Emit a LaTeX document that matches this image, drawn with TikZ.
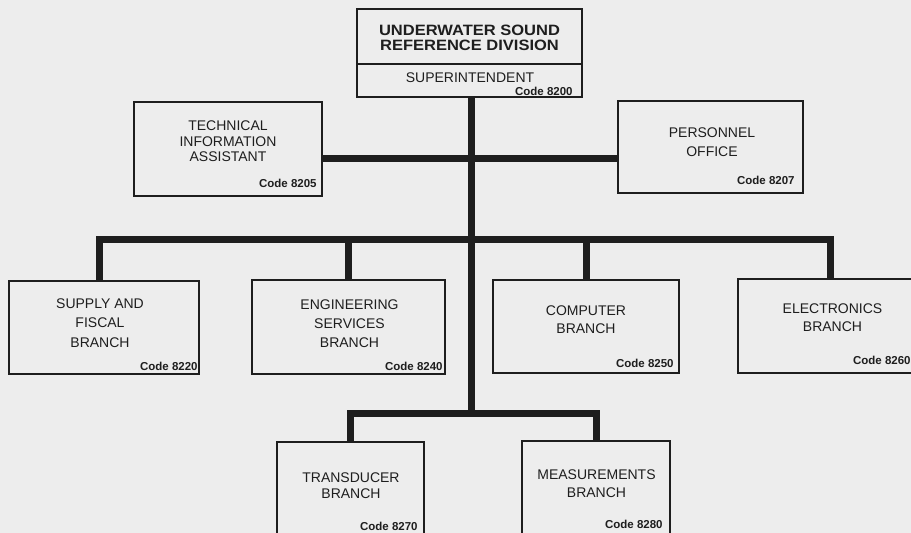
\documentclass[tikz,border=0pt]{standalone}
\usepackage{fontspec}
\setmainfont{Liberation Sans}
\newfontfamily\headfont[FakeStretch=1.1]{Liberation Sans}
\definecolor{ink}{HTML}{1E1E1E}
\definecolor{paper}{HTML}{EDEDED}

\begin{document}
\begin{tikzpicture}[x=1pt,y=-1pt,
  unit/.style={draw=ink,line width=1.6pt,inner sep=0pt},
  boxtext/.style={font=\fontsize{14}{#1}\selectfont,align=center,
    text=ink,inner sep=0pt},
  codetext/.style={font=\fontsize{11.5}{13}\selectfont\bfseries,
    text=ink,anchor=base east,inner sep=0pt},
  link/.style={draw=ink,line width=7pt}]
  \useasboundingbox (0,0) rectangle (911,533);
  \clip (0,0) rectangle (911,533);
  \fill[paper] (0,0) rectangle (911,533);

  \node[unit,minimum width=225pt,minimum height=55pt] (div) at (469.5,36.5) {};
  \node[unit,minimum width=225pt,minimum height=33pt] (sup) at (469.5,80.5) {};
  \node[font=\headfont\fontsize{15}{15.5}\selectfont\bfseries,align=center,
    text=ink,inner sep=0pt] (divname) at (469.5,37.8)
    {UNDERWATER SOUND\\REFERENCE DIVISION};
  \node[boxtext=16] (supname) at (470,78) {SUPERINTENDENT};
  \node[codetext] at ([xshift=-10pt,yshift=2.5pt]sup.south east) {Code 8200};

  \node[unit,minimum width=188pt,minimum height=94pt] (tech) at (228,149) {};
  \node[boxtext=15.5] at (228,141.2) {TECHNICAL\\INFORMATION\\ASSISTANT};
  \node[codetext] at ([xshift=-6pt,yshift=9pt]tech.south east) {Code 8205};

  \node[unit,minimum width=185pt,minimum height=92pt] (pers) at (710.5,147) {};
  \node[boxtext=19] at (712,142.5) {PERSONNEL\\OFFICE};
  \node[codetext] at ([xshift=-9pt,yshift=9pt]pers.south east) {Code 8207};

  \node[unit,minimum width=190pt,minimum height=93pt] (supply) at (104,327.5) {};
  \node[boxtext=19.5] at (100,323) {SUPPLY AND\\FISCAL\\BRANCH};
  \node[codetext] at ([xshift=-2pt,yshift=4pt]supply.south east) {Code 8220};

  \node[unit,minimum width=193pt,minimum height=94pt] (eng) at (348.5,327) {};
  \node[boxtext=19] at (349.5,324) {ENGINEERING\\SERVICES\\BRANCH};
  \node[codetext] at ([xshift=-3pt,yshift=4pt]eng.south east) {Code 8240};

  \node[unit,minimum width=186pt,minimum height=93pt] (comp) at (586,326.5) {};
  \node[boxtext=18] at (586,320) {COMPUTER\\BRANCH};
  \node[codetext] at ([xshift=-6pt,yshift=6pt]comp.south east) {Code 8250};

  \node[unit,minimum width=189pt,minimum height=94pt] (elec) at (832.5,326) {};
  \node[boxtext=18] at (832.5,318) {ELECTRONICS\\BRANCH};
  \node[codetext] at ([xshift=-17pt,yshift=9pt]elec.south east) {Code 8260};

  \node[unit,minimum width=147pt,minimum height=95pt] (trans) at (350.5,489.5) {};
  \node[boxtext=16] at (351,486) {TRANSDUCER\\BRANCH};
  \node[codetext] at ([xshift=-7pt,yshift=7pt]trans.south east) {Code 8270};

  \node[unit,minimum width=148pt,minimum height=96pt] (meas) at (596,489) {};
  \node[boxtext=18] at (596.5,484) {MEASUREMENTS\\BRANCH};
  \node[codetext] at ([xshift=-8pt,yshift=9pt]meas.south east) {Code 8280};

  \coordinate (staff) at (471,158);
  \coordinate (bus) at (471,239);
  \coordinate (low) at (471,413);

  \draw[link] (sup.south -| staff) -- (low);
  \draw[link] (tech.east |- staff) -- (pers.west |- staff);
  \draw[link] ([xshift=-5pt]supply.north) |- (bus) -| ([xshift=-2.5pt]elec.north);
  \draw[link] (eng.north) |- (bus);
  \draw[link] (comp.north) |- (bus);
  \draw[link] (trans.north) |- (low) -| (meas.north);
\end{tikzpicture}
\end{document}
